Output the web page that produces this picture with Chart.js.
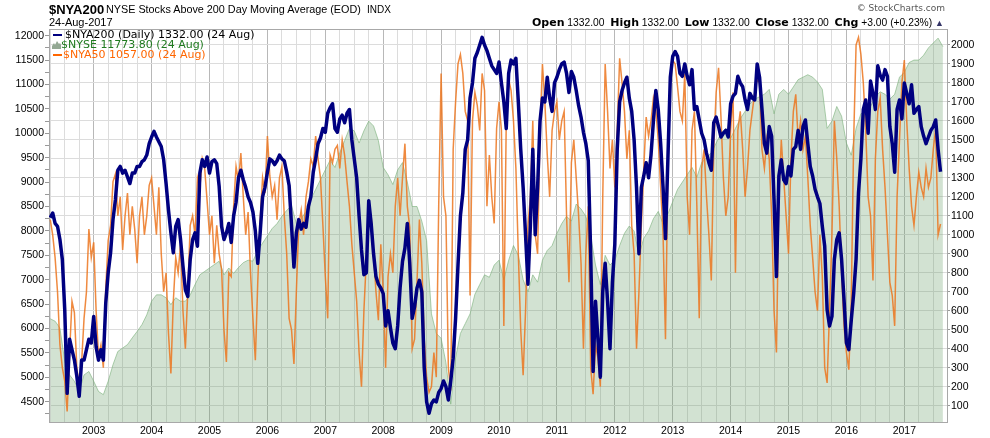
<!DOCTYPE html>
<html>
<head>
<meta charset="utf-8">
<title>$NYA200 - NYSE Stocks Above 200 Day Moving Average</title>
<script src="https://cdn.jsdelivr.net/npm/chart.js@4.4.1/dist/chart.umd.min.js"></script>
<style>
    body { margin: 0; background: #fff; }
    #wrap { position: relative; width: 990px; height: 438px; overflow: hidden; }
    #breadthChart { position: absolute; left: 0; top: 0; }
    .t { position: absolute; white-space: nowrap; line-height: 1; font-family: Arial, "Liberation Sans", sans-serif; color: #000; }
    .v { font-family: "DejaVu Sans", Verdana, sans-serif; }
    .quote b { font-family: "DejaVu Sans", Verdana, sans-serif; font-size: 11px; }
    .dash { position: absolute; width: 9px; height: 2px; }
</style>
</head>
<body>
<div id="wrap">
    <canvas id="breadthChart" width="990" height="438"></canvas>

    <div class="t" style="left:49px; top:2.5px; font-size:13px; font-weight:bold;">$NYA200</div>
    <div class="t" style="left:106px; top:4.4px; font-size:10.8px;">NYSE Stocks Above 200 Day Moving Average (EOD)</div>
    <div class="t" style="left:367px; top:5px; font-size:10px;">INDX</div>
    <div class="t" style="left:49px; top:17.2px; font-size:11px;">24-Aug-2017</div>

    <div class="t v" style="right:45px; top:4px; font-size:9px; color:#555;">&copy; StockCharts.com</div>
    <div class="t quote" style="right:46px; top:17px; font-size:10.3px;"><b>Open</b> 1332.00&nbsp; <b>High</b> 1332.00&nbsp; <b>Low</b> 1332.00&nbsp; <b>Close</b> 1332.00&nbsp; <b>Chg</b> +3.00 (+0.23%) <span style="font-size:9px; color:#333366;">&#9650;</span></div>

    <!-- legend -->
    <div class="dash" style="left:53px; top:33.5px; background:#000080;"></div>
    <div class="t v" style="left:65px; top:28.5px; font-size:11px;">$NYA200 (Daily) 1332.00 (24 Aug)</div>
    <svg style="position:absolute; left:52px; top:40.5px;" width="9" height="8" viewBox="0 0 9 8">
        <polygon points="0,8 0,5 2,2 3,4 5,0 7,3 8,2 9,4 9,8" fill="#93a893"/>
    </svg>
    <div class="t v" style="left:61px; top:38.7px; font-size:11px; color:#1f7a1f;">$NYSE 11773.80 (24 Aug)</div>
    <div class="dash" style="left:53px; top:53.5px; background:#ff6600;"></div>
    <div class="t v" style="left:63px; top:48.7px; font-size:11px; color:#ff6600;">$NYA50 1057.00 (24 Aug)</div>
</div>

<script>
// ── DATA ────────────────────────────────────────────────────────────────
// NYA200 / NYA50 read every half month starting Apr 2002, NYSE read monthly
const START_YEAR = 2002.25;

const nya200 = [
    1090, 1115, 1060, 1045, 975, 870, 605, 165, 450, 395,
    340, 255, 150, 340, 340, 395, 450, 430, 570, 410,
    340, 395, 340, 640, 800, 905, 1080, 1185, 1340, 1360,
    1325, 1340, 1305, 1270, 1325, 1325, 1360, 1360, 1385, 1395,
    1420, 1480, 1515, 1545, 1515, 1490, 1465, 1395, 1270, 1130,
    1010, 905, 1045, 1080, 975, 835, 710, 675, 870, 975,
    1010, 940, 1325, 1395, 1360, 1410, 1325, 1385, 1395, 1375,
    1255, 1045, 975, 1010, 1060,
    960, 1100, 1170, 1300, 1340, 1290, 1250, 1200, 1170, 1120,
    1020, 850, 1010, 1200, 1250, 1330, 1400, 1390, 1370, 1390,
    1420, 1400, 1390, 1330, 1260, 1050, 830, 1010, 1080, 1030,
    1060, 1040, 1150, 1200, 1330, 1400, 1480, 1510, 1560, 1540,
    1640, 1670, 1690, 1560, 1540, 1610, 1630, 1590, 1640, 1660,
    1500, 1400, 1300, 1100, 920, 790, 800, 1180, 1060, 900,
    780, 740, 720, 690, 520, 600, 510, 430, 400, 520,
    720, 860, 930, 1060, 850,
    560, 620, 720, 760, 700, 300, 120, 60, 110, 130,
    120, 170, 190, 230, 200, 130, 230, 350, 560, 840,
    1100, 1220, 1450, 1500, 1720, 1800, 1930, 1960, 2000, 2040,
    2000, 1970, 1930, 1890, 1870, 1850, 1910, 1800, 1700, 1560,
    1850, 1920, 1900, 1930, 1700, 1450, 1250, 1000, 740, 1050,
    1450, 1000, 1250, 1600, 1720, 1700, 1830, 1720, 1650, 1800,
    1830, 1870, 1900, 1910, 1850, 1750, 1860, 1830, 1760, 1680,
    1620, 1540, 1480, 1390,
    900, 280, 650, 450, 250, 700, 850, 650, 400, 750,
    950, 1450, 1700, 1760, 1800, 1830, 1720, 1650, 1500, 1250,
    900, 1250, 1310, 1380, 1300, 1420, 1600, 1760, 1660, 1480,
    1250, 980, 1400, 1830, 1940, 1965, 1940, 1850, 1835, 1900,
    1835, 1790, 1870, 1660, 1675, 1605, 1535, 1500, 1430, 1380,
    1340, 1590, 1620, 1570, 1515, 1535, 1550, 1515, 1690, 1730,
    1745, 1835, 1800, 1780, 1710, 1660, 1745, 1720, 1710, 1900,
    1830, 1660, 1480, 1430, 1570,
    1520, 1185, 780, 1310, 1395, 1290, 1270, 1360, 1310, 1450,
    1465, 1550, 1450, 1570, 1605, 1480, 1360, 1310, 1240, 1200,
    1165, 1045, 940, 605, 520, 570, 870, 975, 1010, 870,
    660, 430, 395, 550, 690, 870, 1220, 1400, 1660, 1710,
    1535, 1810, 1745, 1660, 1890, 1840, 1815, 1870, 1835, 1570,
    1480, 1330, 1660, 1710, 1610, 1800, 1745, 1690, 1790, 1640,
    1660, 1675, 1570, 1520, 1480, 1515, 1550, 1570, 1605, 1450,
    1332
];

const nya50 = [
    1080, 1000, 880, 700, 420, 300, 230, 70, 380, 650,
    590, 300, 200, 330, 560, 700, 1030, 880, 960, 600,
    360, 420, 300, 720, 970, 1050, 1280, 1320, 1100, 1200,
    920, 1100, 1220, 1000, 1150, 1030, 850, 1100, 1200, 1000,
    1100, 1260, 1300, 1150, 1000, 1250, 900, 700, 800, 480,
    270, 650, 880, 800, 950, 600, 400, 700, 1050, 1100,
    1000, 1300, 1250, 1400, 1350, 1180, 1000, 1100, 850, 1050,
    900, 820, 500, 330, 800,
    780, 1150, 1360, 1280, 1430, 1200, 1000, 1120, 800, 560,
    340, 750, 1080, 1300, 1220, 1520, 1310, 1200, 1260, 1080,
    1300, 1360, 1100, 900, 560, 500, 320, 700, 1050, 1130,
    1000, 1200, 1280, 1400, 1360, 1520, 1400, 1300, 1050, 780,
    560, 1420, 1380, 1450, 1470, 1350, 1500, 1420, 1280, 1150,
    950, 800, 650, 380, 200, 600, 870, 1080, 1100, 900,
    700, 550, 950, 700, 300, 780, 900, 800, 1150, 1300,
    1100, 1300, 1480, 1150, 1040,
    400, 450, 750, 1080, 850, 450, 250, 170, 200, 380,
    250, 1150, 1850, 1200, 1100, 300, 180, 1450, 1700, 1900,
    1950, 1850, 1650, 1600, 680, 1600, 1750, 1680, 1550, 1850,
    1760, 1150, 1420, 1200, 1060, 1560, 1700, 1550, 520, 1600,
    1820, 1760, 1600, 1350, 900, 500, 260, 600, 1050, 1200,
    1600, 1000, 900, 1550, 1900, 1700, 1420, 1200, 1550, 1650,
    1700, 1500, 1600, 1650, 1100, 750, 1380, 1500, 1300, 1100,
    850, 400, 900, 1150,
    300, 160, 420, 350, 200, 1200, 1900, 1650, 1350, 1500,
    1250, 1550, 1930, 1800, 1650, 1400, 1550, 1050, 900, 400,
    700, 1050, 1350, 1620, 1520, 1600, 1720, 1660, 1500, 1250,
    1000, 450, 1350, 1800, 1920, 1900, 1780, 1650, 1600, 1850,
    1200, 1000, 1550, 1650, 1150, 560, 1350, 1450, 1200, 1000,
    760, 1450, 1750, 1880, 1620, 1300, 1100, 1200, 1550, 1750,
    800, 1550, 1650, 1450, 1200, 1350, 1550, 1650, 1750, 1820,
    1800, 1450, 1350, 1500, 1400,
    1100, 600, 380, 1200, 1500, 1300, 1100, 900, 1400, 1650,
    1740, 1500, 1600, 1450, 1520, 1300, 1050, 880, 700, 600,
    1000, 780, 300, 220, 600, 1000, 1600, 1400, 1150, 800,
    520, 380, 290, 650, 1500, 2000, 2040, 1950, 1800, 1550,
    1200, 1100, 760, 1400, 1650, 1720, 1450, 1250, 1000, 750,
    680, 520, 1200, 1500, 1800, 1920, 1600, 1350, 1150, 1050,
    1200, 1330, 1250, 1200, 1350, 1250, 1300, 1450, 1560, 1000,
    1057
];

const nyse = [
    6200, 6150, 6010, 5330, 5050, 4920, 4710, 5050, 5120, 4920,
    4710, 4645, 4920, 5260, 5530, 5600, 5670, 5810, 5940, 6080,
    6280, 6560, 6690, 6690, 6630, 6490, 6630, 6560, 6560, 6690,
    6900, 7100, 7170, 7240, 7310, 7380, 7100, 7240, 7130, 7250,
    7350, 7400, 7380, 7600, 7750, 7900, 8050, 8150, 8300, 8420,
    8520, 8150, 8250, 8400, 8650, 8850, 9050, 9250, 9450, 9300,
    9600, 9850, 10100, 10050, 9800, 10050, 10250, 10150, 9850, 9300,
    9150, 8950, 9250, 9400, 9000, 8500, 8500, 8200, 7800, 6300,
    5900, 5800, 5300, 4450, 5400, 5900, 6100, 6300, 6700, 6900,
    7100, 7050, 7300, 7400, 7000, 7400, 7700, 7500, 7000, 6750,
    7100, 6950, 7400, 7600, 7700, 7950, 8150, 8300, 8200, 8550,
    8450, 8300, 7900, 7300, 6900, 7500, 7300, 7400, 7700, 7950,
    8100, 8000, 7500, 7850, 8000, 8250, 8400, 8150, 8350, 8600,
    8850, 9000, 9150, 9300, 9100, 9400, 9500, 9600, 9800, 10000,
    10100, 9900, 10100, 10300, 10450, 10600, 10700, 10750, 10800, 10900,
    10400, 10800, 10900, 10800, 10950, 11100, 11150, 11200, 11150, 11050,
    10900, 10100, 10250, 10550, 10350, 9800, 9550, 10100, 10400, 10450,
    10550, 10750, 10850, 10800, 10700, 10800, 11150, 11250, 11450, 11500,
    11500, 11600, 11750, 11850, 11950, 11774
];

const yearLabels = [2003, 2004, 2005, 2006, 2007, 2008, 2009, 2010,
                    2011, 2012, 2013, 2014, 2015, 2016, 2017];

const halfMonths = nya200.map((_, i) => START_YEAR + i / 24);
const months = nyse.map((_, k) => START_YEAR + k / 12);

// ── STYLE ───────────────────────────────────────────────────────────────
const AXIS_FONT = { family: "Arial, 'Liberation Sans', sans-serif", size: 10.5 };
const GRID = '#dcdcdc';
const GRID_YEAR = '#b8b8b8';
const FRAME = '#a8a8a8';

// top edge of the plot frame (the axes draw the other three sides)
const frameTop = {
    id: 'frameTop',
    beforeDatasetsDraw(chart) {
        const { ctx, chartArea: a } = chart;
        ctx.save();
        ctx.strokeStyle = FRAME;
        ctx.lineWidth = 1;
        ctx.beginPath();
        ctx.moveTo(a.left, a.top + 0.5);
        ctx.lineTo(a.right, a.top + 0.5);
        ctx.stroke();
        ctx.restore();
    }
};

function initBreadthChart() {
    const ctx = document.getElementById('breadthChart');

    new Chart(ctx.getContext('2d'), {
        type: 'line',
        data: {
            datasets: [
                {
                    label: '$NYA200',
                    data: nya200.map((v, i) => ({ x: halfMonths[i], y: v })),
                    yAxisID: 'yR',
                    borderColor: '#000080',
                    borderWidth: 3.5,
                    borderJoinStyle: 'round',
                    order: 0
                },
                {
                    label: '$NYA50',
                    data: nya50.map((v, i) => ({ x: halfMonths[i], y: v })),
                    yAxisID: 'yR',
                    borderColor: 'rgba(236, 118, 30, 0.85)',
                    borderWidth: 1.5,
                    order: 1
                },
                {
                    label: '$NYSE',
                    data: nyse.map((v, k) => ({ x: months[k], y: v })),
                    yAxisID: 'yL',
                    borderColor: 'rgba(120, 175, 120, 0.6)',
                    backgroundColor: 'rgba(105, 160, 105, 0.3)',
                    borderWidth: 1,
                    fill: 'start',
                    order: 2
                }
            ]
        },
        options: {
            responsive: false,
            animation: false,
            events: [],
            layout: { padding: { top: 29, left: 0, right: 0, bottom: 0 } },
            elements: { point: { radius: 0 }, line: { tension: 0 } },
            plugins: {
                legend: { display: false },
                tooltip: { enabled: false }
            },
            scales: {
                x: {
                    type: 'linear',
                    min: 2002.228,
                    max: 2017.737,
                    afterBuildTicks: s => {
                        const t = [];
                        for (let q = 8009; q <= 8070; q++) t.push({ value: q / 4 });
                        s.ticks = t;
                    },
                    afterFit: s => { s.height = 16; },
                    grid: {
                        color: c => (c.tick && Number.isInteger(c.tick.value)) ? GRID_YEAR : GRID,
                        drawTicks: false
                    },
                    border: { color: FRAME },
                    ticks: {
                        autoSkip: false,
                        maxRotation: 0,
                        padding: 3,
                        color: '#000',
                        font: AXIS_FONT,
                        callback: v => yearLabels.includes(v) ? String(v) : ''
                    }
                },
                yL: {
                    position: 'left',
                    min: 4085,
                    max: 12137,
                    afterBuildTicks: s => {
                        const t = [];
                        for (let v = 4250; v <= 12000; v += 250) t.push({ value: v });
                        s.ticks = t;
                    },
                    afterFit: s => { s.width = 49; },
                    grid: { drawOnChartArea: false, tickLength: 4, tickColor: '#999' },
                    border: { color: FRAME },
                    ticks: {
                        autoSkip: false,
                        padding: 1,
                        color: '#000',
                        font: AXIS_FONT,
                        callback: v => v % 500 === 0 ? String(v) : ''
                    }
                },
                yR: {
                    position: 'right',
                    min: 14,
                    max: 2084,
                    afterBuildTicks: s => {
                        const t = [];
                        for (let v = 100; v <= 2000; v += 100) t.push({ value: v });
                        s.ticks = t;
                    },
                    afterFit: s => { s.width = 43; },
                    grid: { color: GRID, tickLength: 3, tickColor: '#999' },
                    border: { color: FRAME },
                    ticks: {
                        autoSkip: false,
                        padding: 1,
                        color: '#000',
                        font: AXIS_FONT,
                        callback: v => String(v)
                    }
                }
            }
        },
        plugins: [frameTop]
    });
}

initBreadthChart();
</script>
</body>
</html>
